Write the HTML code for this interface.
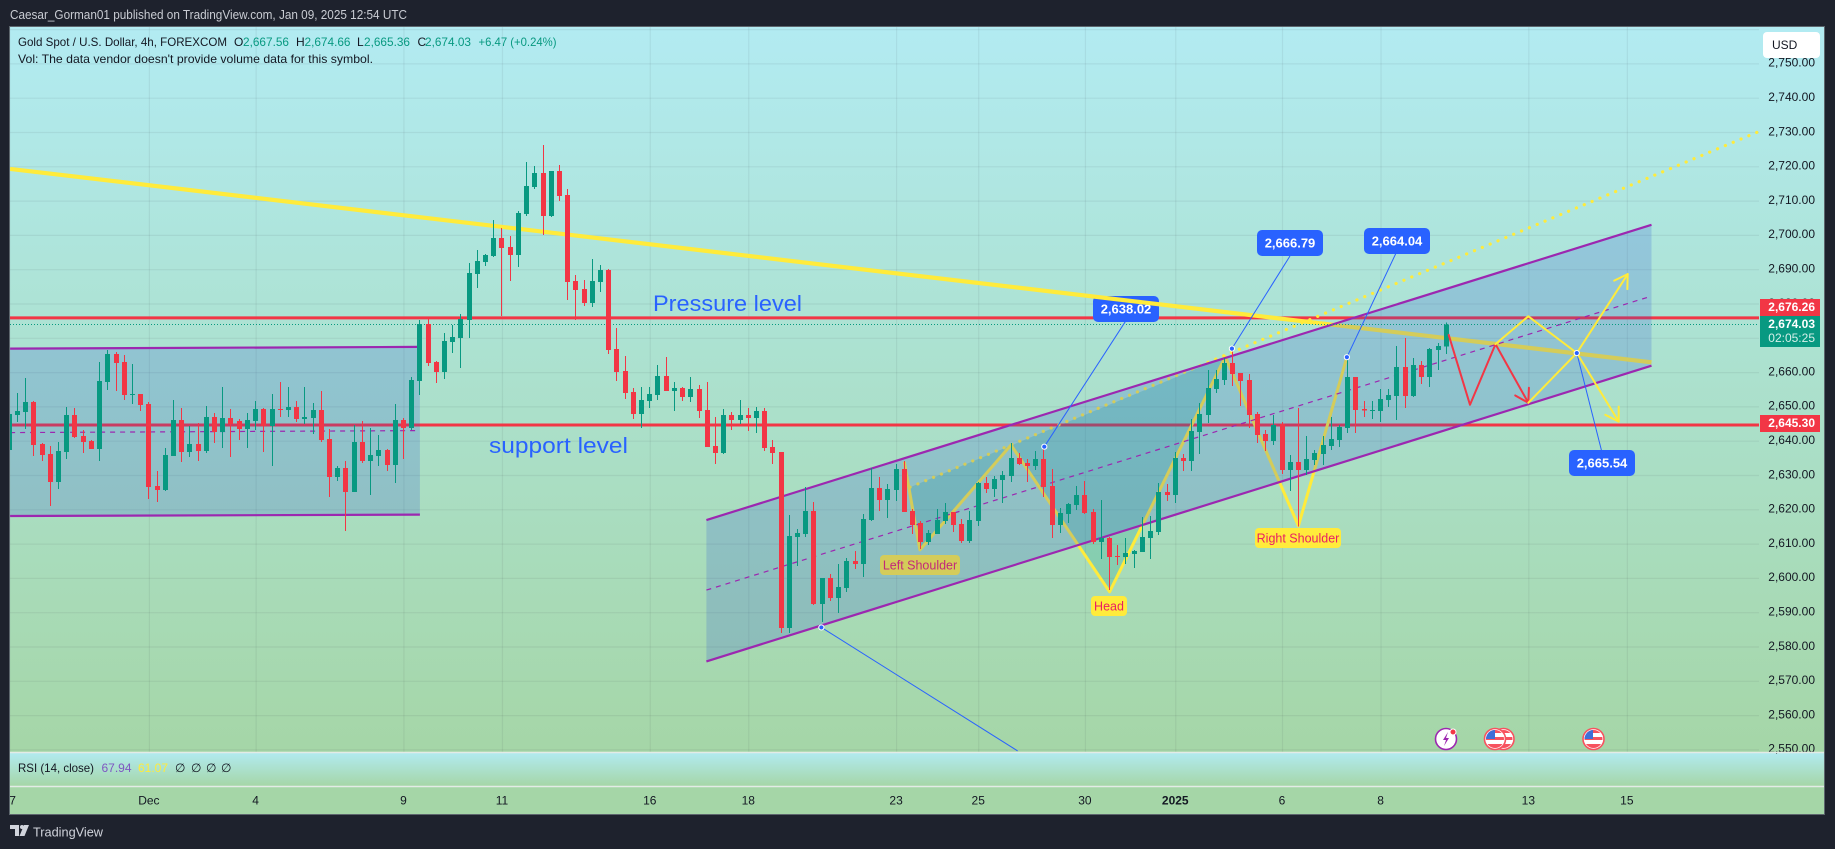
<!DOCTYPE html>
<html lang="en">
<head>
<meta charset="utf-8">
<title>Gold Spot / U.S. Dollar 4h chart</title>
<style>
html,body{margin:0;padding:0;background:#1e222d;width:1835px;height:849px;overflow:hidden}
svg{display:block}
text{font-family:"Liberation Sans",Arial,sans-serif}
</style>
</head>
<body>
<svg id="chart" xmlns="http://www.w3.org/2000/svg" width="1835" height="849" viewBox="0 0 1835 849">
  <defs>
    <linearGradient id="paneGrad" x1="0" y1="0" x2="0" y2="1">
      <stop offset="0" stop-color="#b2ebf2"/>
      <stop offset="1" stop-color="#a5d6a7"/>
    </linearGradient>
    <clipPath id="mainClip"><rect x="10" y="27" width="1749" height="725"/></clipPath>
    <clipPath id="axisClip"><rect x="10" y="787" width="1814" height="27"/></clipPath>
    <clipPath id="flagA"><circle cx="1495" cy="739" r="9"/></clipPath>
    <clipPath id="flagB"><circle cx="1503.5" cy="739" r="9"/></clipPath>
    <clipPath id="flagC"><circle cx="1593.5" cy="739" r="9"/></clipPath>
  </defs>

  <text x="10" y="19" font-size="12.5" fill="#c9ccd3" textLength="397" lengthAdjust="spacingAndGlyphs">Caesar_Gorman01 published on TradingView.com, Jan 09, 2025 12:54 UTC</text>

  <rect x="9.5" y="26.5" width="1815" height="788" fill="#a5d6a7" stroke="#5d666d" stroke-width="1"/>
  <rect x="10" y="27" width="1814" height="725" fill="url(#paneGrad)"/>
  <rect x="10" y="752" width="1814" height="34" fill="url(#paneGrad)"/>
  <rect x="10" y="786" width="1814" height="28" fill="#a5d6a7"/>

  <g id="gridLayer" clip-path="url(#mainClip)"></g>
  <g id="drawLayer" clip-path="url(#mainClip)"></g>
  <g id="candleLayer" clip-path="url(#mainClip)"></g>
  <g id="overLayer" clip-path="url(#mainClip)"></g>

  <g id="axisLayer"></g>

  <rect x="1760" y="299" width="60" height="17" fill="#f23645"/>
  <text x="1815" y="311" text-anchor="end" font-size="12" font-weight="bold" fill="#ffffff">2,676.26</text>
  <rect x="1760" y="316" width="60" height="31" fill="#089981"/>
  <text x="1815" y="328" text-anchor="end" font-size="12" font-weight="bold" fill="#ffffff">2,674.03</text>
  <text x="1815" y="342" text-anchor="end" font-size="12" fill="#d5efe9">02:05:25</text>
  <rect x="1760" y="415" width="60" height="17" fill="#f23645"/>
  <text x="1815" y="427" text-anchor="end" font-size="12" font-weight="bold" fill="#ffffff">2,645.30</text>

  <rect x="1763" y="32" width="57" height="26" rx="4" fill="#ffffff"/>
  <text x="1772" y="49" font-size="12" fill="#131722">USD</text>

  <g font-size="12">
    <text x="18" y="46" fill="#131722" textLength="209" lengthAdjust="spacingAndGlyphs">Gold Spot / U.S. Dollar, 4h, FOREXCOM</text>
    <text x="234" y="46" fill="#131722">O</text>
    <text x="243" y="46" fill="#089981" textLength="46" lengthAdjust="spacingAndGlyphs">2,667.56</text>
    <text x="296" y="46" fill="#131722">H</text>
    <text x="304.5" y="46" fill="#089981" textLength="46" lengthAdjust="spacingAndGlyphs">2,674.66</text>
    <text x="357" y="46" fill="#131722">L</text>
    <text x="364" y="46" fill="#089981" textLength="46" lengthAdjust="spacingAndGlyphs">2,665.36</text>
    <text x="417.5" y="46" fill="#131722">C</text>
    <text x="425" y="46" fill="#089981" textLength="46" lengthAdjust="spacingAndGlyphs">2,674.03</text>
    <text x="478.5" y="46" fill="#089981" textLength="78" lengthAdjust="spacingAndGlyphs">+6.47 (+0.24%)</text>
    <text x="18" y="63" fill="#131722" textLength="355" lengthAdjust="spacingAndGlyphs">Vol: The data vendor doesn't provide volume data for this symbol.</text>
  </g>

  <g>
    <g>
      <circle cx="1446" cy="739" r="10.5" fill="#ffffff" stroke="#9c27b0" stroke-width="1.6"/>
      <path d="M1448 732l-5 8h3l-2 6 5-8h-3z" fill="#9c27b0"/>
      <circle cx="1453" cy="732" r="3" fill="#f23645" stroke="#ffffff"/>
    </g>
    <g>
      <circle cx="1503.5" cy="739" r="10.5" fill="#ffffff" stroke="#f7525f" stroke-width="1.6"/>
      <g clip-path="url(#flagB)"><rect x="1494" y="730" width="20" height="3" fill="#f7525f"/><rect x="1494" y="737" width="20" height="3" fill="#f7525f"/><rect x="1494" y="744" width="20" height="5" fill="#f7525f"/></g>
    </g>
    <g>
      <circle cx="1495" cy="739" r="10.5" fill="#ffffff" stroke="#f7525f" stroke-width="1.6"/>
      <g clip-path="url(#flagA)"><rect x="1486" y="730" width="20" height="3" fill="#f7525f"/><rect x="1486" y="737" width="20" height="3" fill="#f7525f"/><rect x="1486" y="744" width="20" height="5" fill="#f7525f"/><rect x="1486" y="730" width="9" height="9" fill="#3f6fd8"/></g>
    </g>
    <g>
      <circle cx="1593.5" cy="739" r="10.5" fill="#ffffff" stroke="#f7525f" stroke-width="1.6"/>
      <g clip-path="url(#flagC)"><rect x="1584" y="730" width="20" height="3" fill="#f7525f"/><rect x="1584" y="737" width="20" height="3" fill="#f7525f"/><rect x="1584" y="744" width="20" height="5" fill="#f7525f"/><rect x="1584" y="730" width="9" height="9" fill="#3f6fd8"/></g>
    </g>
  </g>

  <line x1="10" y1="752.5" x2="1824" y2="752.5" stroke="#e3ebe6" stroke-width="1.5"/>
  <line x1="10" y1="786.5" x2="1824" y2="786.5" stroke="#e3ebe6" stroke-width="1.5"/>

  <g font-size="12">
    <text x="18" y="772" fill="#131722" textLength="76" lengthAdjust="spacingAndGlyphs">RSI (14, close)</text>
    <text x="101.5" y="772" fill="#7e57c2" textLength="30" lengthAdjust="spacingAndGlyphs">67.94</text>
    <text x="138" y="772" fill="#ffeb3b" textLength="30" lengthAdjust="spacingAndGlyphs">61.07</text>
    <text x="175" y="772" fill="#131722">∅</text>
    <text x="191" y="772" fill="#131722">∅</text>
    <text x="206" y="772" fill="#131722">∅</text>
    <text x="221" y="772" fill="#131722">∅</text>
  </g>

  <g id="timeLayer" clip-path="url(#axisClip)"></g>

  <g>
    <path d="M10 825h9v11h-4v-7h-5z" fill="#d1d4dc"/>
    <circle cx="22" cy="827" r="2" fill="#d1d4dc"/>
    <path d="M24 825h5l-4.5 11h-5z" fill="#d1d4dc"/>
    <text x="33" y="836.5" font-size="13" fill="#d1d4dc" textLength="70" lengthAdjust="spacingAndGlyphs">TradingView</text>
  </g>
</svg>

<script>
// ---- Candle data (price units), one entry per 4h bar ----
const opens = [
2637.4,2647.6,2648.5,2651.4,2639.2,2636.3,2628.1,2636.9,2647.6,2641.5,
2640.1,2637.7,2657.3,2665.4,2663.1,2653.5,2653.8,2650.9,2626.9,2625.8,
2635.7,2646.2,2636.9,2639.2,2637.1,2647.1,2642.7,2646.8,2645.9,2643.6,
2645.9,2649.4,2644.4,2649.4,2649.1,2650.0,2646.5,2646.8,2649.1,2640.6,
2629.6,2632.2,2625.2,2639.8,2634.2,2635.7,2637.4,2633.1,2646.2,2643.9,
2657.6,2674.2,2663.1,2660.2,2668.9,2670.1,2675.3,2688.7,2692.2,2694.0,
2699.2,2696.6,2694.3,2706.2,2714.1,2718.2,2705.7,2718.8,2711.8,2686.7,
2684.4,2680.3,2686.4,2689.9,2666.9,2660.5,2654.4,2647.9,2651.7,2653.5,
2659.0,2654.6,2655.5,2652.9,2655.2,2649.1,2638.6,2636.6,2647.6,2646.2,
2647.6,2646.8,2648.8,2638.3,2636.8,2585.5,2612.1,2612.9,2619.6,2592.5,
2600.1,2594.3,2597.2,2605.1,2604.2,2617.0,2626.3,2622.8,2625.8,2631.9,
2619.6,2616.1,2610.6,2612.9,2616.7,2619.4,2615.9,2610.9,2616.7,2627.8,
2626.1,2628.7,2629.8,2635.1,2633.6,2632.8,2634.8,2626.9,2615.6,2618.8,
2621.4,2624.3,2619.4,2610.6,2611.8,2606.5,2606.2,2607.1,2607.7,2611.8,
2613.5,2625.2,2624.3,2635.1,2634.2,2642.7,2647.6,2655.2,2657.9,2662.8,
2659.9,2657.9,2647.9,2642.1,2640.1,2645.0,2631.6,2633.9,2631.6,2634.5,
2636.3,2638.6,2640.4,2643.9,2658.7,2649.4,2648.9,2648.8,2652.0,2653.2,
2661.6,2653.2,2662.2,2658.7,2666.6,2667.56];
const closes = [
2647.9,2648.8,2651.4,2638.9,2636.0,2628.1,2637.1,2647.6,2641.2,2639.8,
2637.7,2657.6,2665.4,2662.8,2653.5,2653.8,2650.6,2626.7,2625.8,2636.0,
2646.2,2636.9,2639.2,2637.1,2647.1,2642.7,2646.8,2645.0,2643.6,2646.2,
2649.4,2644.4,2649.4,2649.1,2650.0,2646.5,2647.1,2649.1,2640.4,2629.6,
2632.2,2625.2,2639.8,2634.2,2636.0,2637.4,2633.1,2646.2,2643.9,2657.9,
2674.2,2662.8,2660.2,2669.2,2670.4,2675.6,2689.0,2692.5,2694.3,2699.2,
2696.3,2694.3,2706.5,2714.4,2718.2,2705.7,2718.8,2711.5,2686.4,2684.1,
2680.3,2686.7,2689.9,2666.6,2660.2,2654.1,2647.9,2652.0,2653.8,2659.0,
2654.6,2655.5,2652.9,2655.2,2648.8,2638.3,2636.6,2647.6,2646.2,2647.6,
2646.8,2648.8,2638.0,2636.6,2585.5,2612.4,2613.2,2619.6,2592.5,2600.1,
2594.3,2597.5,2605.1,2604.2,2617.3,2626.3,2622.8,2626.1,2631.9,2619.4,
2615.6,2610.6,2613.2,2617.0,2619.4,2615.6,2610.9,2617.0,2627.8,2626.1,
2629.0,2630.1,2635.1,2633.3,2632.8,2634.8,2626.6,2615.6,2619.1,2621.7,
2624.3,2619.1,2610.6,2611.8,2606.2,2606.2,2607.4,2608.0,2612.1,2613.8,
2625.2,2624.3,2635.1,2634.2,2643.0,2647.9,2655.5,2658.1,2662.8,2659.6,
2657.6,2647.6,2641.8,2640.1,2644.7,2631.6,2633.9,2631.6,2634.8,2636.6,
2638.9,2640.6,2644.1,2658.7,2649.1,2649.0,2649.1,2652.3,2653.5,2661.6,
2653.2,2662.2,2658.7,2666.9,2667.8,2674.03];
const highs = [
2647.9,2654.1,2658.4,2651.7,2639.5,2638.6,2639.8,2650.0,2649.7,2643.3,
2640.4,2663.1,2666.6,2666.0,2665.1,2662.5,2653.8,2651.4,2631.3,2638.0,
2652.0,2649.7,2644.4,2645.3,2650.3,2648.2,2655.8,2649.4,2646.5,2648.2,
2651.7,2649.7,2653.8,2657.3,2655.8,2651.7,2655.8,2651.1,2654.6,2643.6,
2632.8,2634.2,2644.7,2645.9,2643.9,2641.8,2637.7,2650.9,2646.8,2658.7,
2675.3,2675.9,2663.4,2671.5,2673.9,2677.1,2692.0,2695.7,2694.6,2704.5,
2702.2,2699.8,2707.1,2721.4,2720.2,2726.4,2718.8,2720.5,2713.5,2688.5,
2687.0,2693.1,2691.4,2690.2,2673.0,2664.8,2655.5,2655.8,2655.8,2662.2,
2664.6,2657.3,2655.8,2658.7,2656.4,2657.3,2647.1,2649.4,2648.5,2652.0,
2649.7,2650.0,2649.7,2640.4,2636.8,2618.5,2614.4,2626.6,2622.3,2600.1,
2601.3,2604.2,2605.9,2608.0,2618.8,2632.2,2629.6,2627.5,2633.3,2634.2,
2620.2,2616.7,2614.1,2620.2,2622.0,2619.4,2617.3,2619.6,2628.1,2629.6,
2629.8,2631.3,2639.5,2636.5,2634.8,2637.1,2638.6,2631.9,2620.5,2622.0,
2626.9,2628.4,2620.2,2622.8,2612.1,2609.7,2611.8,2608.3,2617.9,2618.2,
2627.8,2627.5,2636.9,2636.3,2646.5,2651.1,2660.8,2660.8,2664.3,2666.6,
2659.9,2659.6,2648.5,2643.3,2647.6,2645.6,2636.0,2649.7,2641.5,2637.4,
2641.5,2647.1,2644.7,2664.3,2658.7,2651.7,2651.7,2655.2,2655.2,2667.8,
2670.1,2664.3,2663.4,2667.2,2668.6,2674.66];
const lows = [
2637.4,2645.6,2643.6,2635.7,2634.2,2621.1,2626.1,2634.8,2640.9,2636.6,
2637.7,2634.2,2654.9,2654.6,2652.0,2650.9,2648.8,2623.2,2622.3,2625.5,
2635.7,2633.9,2635.4,2634.2,2636.6,2639.5,2638.0,2635.4,2640.4,2638.0,
2643.3,2636.9,2632.8,2647.1,2647.1,2645.6,2645.0,2642.1,2639.8,2623.7,
2628.4,2613.8,2625.2,2633.6,2624.3,2632.8,2631.3,2627.8,2634.8,2643.3,
2653.5,2661.9,2657.0,2658.1,2665.7,2661.3,2670.1,2684.7,2691.1,2693.7,
2676.5,2686.7,2690.8,2705.7,2713.5,2700.1,2705.4,2710.0,2681.2,2675.3,
2679.4,2679.1,2683.5,2665.4,2657.6,2652.3,2646.5,2643.9,2649.7,2652.0,
2654.6,2648.8,2651.7,2651.4,2646.8,2638.3,2633.4,2636.3,2643.3,2645.0,
2643.0,2642.4,2637.2,2633.4,2584.1,2584.1,2603.6,2612.1,2592.2,2587.3,
2593.4,2589.9,2596.1,2602.7,2600.4,2616.7,2619.6,2617.6,2622.6,2619.4,
2612.9,2608.6,2609.7,2612.9,2615.9,2613.5,2610.3,2610.3,2615.3,2624.9,
2623.7,2622.0,2628.1,2633.1,2628.1,2631.6,2623.7,2611.8,2613.2,2616.1,
2619.9,2618.8,2610.0,2605.6,2596.6,2603.9,2604.2,2603.0,2607.7,2605.6,
2612.7,2622.6,2622.0,2631.3,2631.3,2636.3,2645.3,2654.1,2656.4,2656.1,
2650.3,2643.9,2639.5,2637.2,2638.9,2630.4,2625.5,2615.1,2630.2,2633.1,
2633.1,2637.4,2638.3,2642.4,2642.4,2647.1,2646.5,2645.6,2650.0,2646.2,
2649.7,2652.9,2656.7,2655.8,2660.8,2665.36];

// ---- Axis ticks ----
const priceTicks = [2550,2560,2570,2580,2590,2600,2610,2620,2630,2640,2650,2660,2670,2680,2690,2700,2710,2720,2730,2740,2750];
const gridPrices = [2550,2560,2570,2580,2590,2600,2610,2620,2630,2640,2650,2660,2670,2680,2690,2700,2710,2720,2730,2740,2750,2760];
const dateTickBars = [0,17,30,48,60,78,90,108,118,131,142,155,167,185,197];
const dateTickLabels = ['27','Dec','4','9','11','16','18','23','25','30','2025','6','8','13','15'];

// ---- Drawing anchors as [bar index, price] ----
const pressureLevel = 2675.97;
const supportLevel = 2644.74;
const lastClose = 2674.03;
const longTrend = [[0.1,2719.4],[200.0,2663.0]];
const rangeTop = [[0.1,2667.0],[50.0,2667.5]];
const rangeMid = [[0.1,2642.5],[50.0,2643.1]];
const rangeBottom = [[0.1,2618.2],[50.0,2618.6]];
const channelTop = [[84.9,2617.0],[200.0,2703.1]];
const channelMid = [[84.9,2596.6],[200.0,2682.3]];
const channelBottom = [[84.9,2575.8],[200.0,2662.0]];
const patternPoints = [[109.0,2634.0],[110.9,2608.3],[122.0,2638.9],[134.0,2596.1],[148.1,2664.6],[157.0,2615.3],[162.9,2664.5]];
const neckline = [[109.7,2626.6],[213.2,2730.4]];
const leaderA = [[126.05,2638.4],[135.9,2674.8]];
const leaderB = [[148.9,2667.0],[155.97,2694.0]];
const leaderC = [[162.9,2664.5],[168.9,2694.9]];
const leaderD = [[190.9,2665.7],[193.9,2637.4]];
const leaderE = [[98.9,2585.7],[122.8,2549.7]];
const redPath = [[175.3,2671.0],[177.9,2650.6],[181.0,2668.3],[185.0,2651.2]];
const yellowPathDown = [[181.0,2668.3],[185.0,2676.4],[190.9,2665.7],[196.0,2645.7]];
const yellowPathUp = [[185.0,2651.2],[190.9,2665.7],[197.1,2688.7]];

// ---- Scales ----
function xScale(bar){ return 9.3 + bar * 8.211; }
function yScale(price){ return 235.4 + (2700 - price) * 3.43; }

const SVGNS = 'http://www.w3.org/2000/svg';
function make(tag, attrs, parent){
  const el = document.createElementNS(SVGNS, tag);
  for (const k in attrs) el.setAttribute(k, attrs[k]);
  parent.appendChild(el);
  return el;
}
function pts(list){ return list.map(p => xScale(p[0]).toFixed(1) + ',' + yScale(p[1]).toFixed(1)).join(' '); }

const gridLayer = document.getElementById('gridLayer');
const drawLayer = document.getElementById('drawLayer');
const candleLayer = document.getElementById('candleLayer');
const overLayer = document.getElementById('overLayer');
const axisLayer = document.getElementById('axisLayer');
const timeLayer = document.getElementById('timeLayer');

// Grid
gridPrices.forEach(function(p){
  const el = make('line', {x1:10, x2:1759, y1:yScale(p), y2:yScale(p), stroke:'rgba(42,46,57,0.07)', 'stroke-width':1.2}, gridLayer);
  
  
});
dateTickBars.forEach(function(b){
  const gx = xScale(b) + 0.5;
  const el = make('line', {x1:gx, x2:gx, y1:27, y2:752, stroke:'rgba(42,46,57,0.07)', 'stroke-width':1.2}, gridLayer);
  
  
});

// Price axis labels
priceTicks.forEach(function(p){
  const el = make('text', {x:1815, y:yScale(p) + 2.8, 'text-anchor':'end', 'font-size':12, fill:'#131722'}, axisLayer);
  el.textContent = p.toLocaleString('en-US', {minimumFractionDigits:2, maximumFractionDigits:2});
  
  
});

// Time axis labels
dateTickBars.forEach(function(b, i){
  const el = make('text', {x:xScale(b), y:804.5, 'text-anchor':'middle', 'font-size':12, fill:'#131722', 'font-weight': dateTickLabels[i] === '2025' ? 'bold' : 'normal'}, timeLayer);
  el.textContent = dateTickLabels[i];
  
  
});

// Horizontal levels (under everything else)
const pressureLine = make('line', {x1:10, x2:1759, y1:yScale(pressureLevel), y2:yScale(pressureLevel), stroke:'#f23645', 'stroke-width':3}, drawLayer);


const supportLine = make('line', {x1:10, x2:1759, y1:yScale(supportLevel), y2:yScale(supportLevel), stroke:'#f23645', 'stroke-width':3}, drawLayer);



// Callout label helper
function callout(name, text, bx, by, bw, bh, parent){
  const box = make('rect', {x:bx, y:by, width:bw, height:bh, rx:5, fill:'#2962ff'}, parent);
  
  
  const t = make('text', {x:bx + bw / 2, y:by + bh / 2 + 4.5, 'text-anchor':'middle', 'font-size':13, 'font-weight':'bold', fill:'#ffffff'}, parent);
  t.textContent = text;
  
  
}
callout('price-callout-2638', '2,638.02', 1093, 296, 66, 26, drawLayer);

// Head & shoulders fill, lines, dotted neckline
const hsFill = make('polygon', {points:pts([neckline[0]].concat(patternPoints.slice(1,5))), fill:'rgba(0,150,136,0.2)'}, drawLayer);


const hsLine = make('polyline', {points:pts(patternPoints), fill:'none', stroke:'#ffeb3b', 'stroke-width':3, 'stroke-linejoin':'round'}, drawLayer);


const neckEl = make('polyline', {points:pts(neckline), fill:'none', stroke:'#ffeb3b', 'stroke-width':3.2, 'stroke-linecap':'round', 'stroke-dasharray':'0.1 8.4'}, drawLayer);



// Pattern labels drawn before channel so the channel tints them
function tag(name, text, bx, by, bw, bh, parent){
  const r = make('rect', {x:bx, y:by, width:bw, height:bh, rx:4, fill:'#ffeb3b'}, parent);
  
  
  const t = make('text', {x:bx + bw / 2, y:by + bh / 2 + 4.5, 'text-anchor':'middle', 'font-size':12.5, fill:'#e91e63'}, parent);
  t.textContent = text;
  
  
}
tag('left-shoulder-label', 'Left Shoulder', 880, 555, 80, 20, drawLayer);
tag('head-label', 'Head', 1091, 596, 36, 20, drawLayer);
tag('right-shoulder-label', 'Right Shoulder', 1255, 528, 86, 20, drawLayer);

// Long yellow trend line
const longEl = make('polyline', {points:pts(longTrend), fill:'none', stroke:'#ffeb3b', 'stroke-width':4.2}, drawLayer);



// Parallel channels
function channel(name, top, mid, bottom, parent){
  const fill = make('polygon', {points:pts([top[0], top[1], bottom[1], bottom[0]]), fill:'rgba(41,80,215,0.2)'}, parent);
  
  
  const t = make('polyline', {points:pts(top), fill:'none', stroke:'#9c27b0', 'stroke-width':2.2}, parent);
  
  
  const m = make('polyline', {points:pts(mid), fill:'none', stroke:'#9c27b0', 'stroke-width':1.2, 'stroke-dasharray':'5 5'}, parent);
  
  
  const b = make('polyline', {points:pts(bottom), fill:'none', stroke:'#9c27b0', 'stroke-width':2.2}, parent);
  
  
}
channel('range-channel', rangeTop, rangeMid, rangeBottom, drawLayer);
channel('rising-channel', channelTop, channelMid, channelBottom, drawLayer);

// Last price dotted line
const lastLine = make('line', {x1:10, x2:1759, y1:yScale(lastClose), y2:yScale(lastClose), stroke:'#089981', 'stroke-width':1, 'stroke-dasharray':'1 2'}, drawLayer);



// Candles
opens.forEach(function(o, i){
  const c = closes[i];
  const col = c >= o ? '#089981' : '#f23645';
  const px = Math.floor(xScale(i));
  const group = make('g', {'shape-rendering':'crispEdges', fill:col}, candleLayer);
  
  
  const wy1 = yScale(highs[i]);
  const wy2 = yScale(lows[i]);
  const wick = make('rect', {x:px, y:wy1, width:1, height:Math.max(1, wy2 - wy1)}, group);
  
  
  const by1 = yScale(Math.max(o, c));
  const by2 = yScale(Math.min(o, c));
  const body = make('rect', {x:px - 2, y:by1, width:5, height:Math.max(1, by2 - by1)}, group);
  
  
});

// Leaders
[leaderA, leaderB, leaderC, leaderD, leaderE].forEach(function(seg){
  const el = make('polyline', {points:pts(seg), fill:'none', stroke:'#2962ff', 'stroke-width':1}, overLayer);
  
  
});

// Arrow paths
function arrowPath(name, list, colour, parent){
  const el = make('polyline', {points:pts(list), fill:'none', stroke:colour, 'stroke-width':2, 'stroke-linejoin':'round', 'stroke-linecap':'round'}, parent);
  
  
  const a = list[list.length - 2];
  const b = list[list.length - 1];
  const ex = xScale(b[0]);
  const ey = yScale(b[1]);
  const ang = Math.atan2(ey - yScale(a[1]), ex - xScale(a[0]));
  [0.55, -0.55].forEach(function(off){
    const barb = make('line', {x1:ex, y1:ey, x2:ex - 15 * Math.cos(ang + off), y2:ey - 15 * Math.sin(ang + off), stroke:colour, 'stroke-width':2, 'stroke-linecap':'round'}, parent);
    
    
  });
}
arrowPath('red-forecast-path', redPath, '#f23645', overLayer);
arrowPath('yellow-forecast-down-path', yellowPathDown, '#ffeb3b', overLayer);
arrowPath('yellow-forecast-up-path', yellowPathUp, '#ffeb3b', overLayer);

// Anchor dots
[leaderA[0], leaderB[0], leaderC[0], leaderD[0], leaderE[0]].forEach(function(p){
  const el = make('circle', {cx:xScale(p[0]), cy:yScale(p[1]), r:2.6, fill:'#2962ff', stroke:'#ffffff', 'stroke-width':1}, overLayer);
  
  
});

// Other callouts
callout('price-callout-2666', '2,666.79', 1257, 230, 66, 26, overLayer);
callout('price-callout-2664', '2,664.04', 1364, 228, 66, 26, overLayer);
callout('price-callout-2665', '2,665.54', 1569, 450, 66, 26, overLayer);

// Text annotations
const pressureText = make('text', {x:653, y:311, 'font-size':22, fill:'#2962ff', textLength:149, lengthAdjust:'spacingAndGlyphs'}, overLayer);
pressureText.textContent = 'Pressure level';


const supportText = make('text', {x:489, y:453, 'font-size':22, fill:'#2962ff', textLength:139, lengthAdjust:'spacingAndGlyphs'}, overLayer);
supportText.textContent = 'support level';


</script>
</body>
</html>
